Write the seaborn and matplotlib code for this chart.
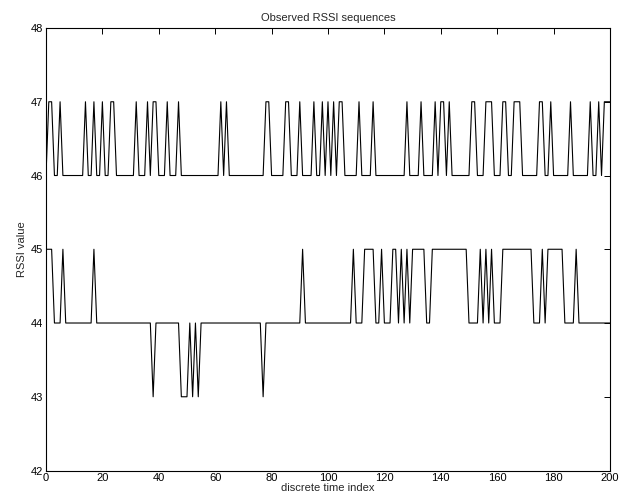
import numpy as np
import pandas as pd
import matplotlib
matplotlib.use("Agg")
import matplotlib.pyplot as plt
import seaborn as sns

# Beobachtete RSSI-Folgen, Zeitindex 0..200
time_index = list(range(201))

upper_rssi = (
    [46, 47, 47, 46, 46, 47, 46, 46, 46, 46, 46, 46, 46, 46, 47, 46, 46, 47, 46, 46]
    + [47, 46, 46, 47, 47, 46, 46, 46, 46, 46, 46, 46, 47, 46, 46, 46, 47, 46, 47, 47]
    + [46, 46, 46, 47, 46, 46, 46, 47, 46, 46, 46, 46, 46, 46, 46, 46, 46, 46, 46, 46]
    + [46, 46, 47, 46, 47, 46, 46, 46, 46, 46, 46, 46, 46, 46, 46, 46, 46, 46, 47, 47]
    + [46, 46, 46, 46, 46, 47, 47, 46, 46, 46, 47, 46, 46, 46, 46, 47, 46, 46, 47, 46]
    + [47, 46, 47, 46, 47, 47, 46, 46, 46, 46, 46, 47, 46, 46, 46, 46, 47, 46, 46, 46]
    + [46, 46, 46, 46, 46, 46, 46, 46, 47, 46, 46, 46, 46, 47, 46, 46, 46, 46, 47, 46]
    + [47, 47, 46, 47, 46, 46, 46, 46, 46, 46, 46, 47, 47, 46, 46, 46, 47, 47, 47, 46]
    + [46, 46, 47, 47, 46, 46, 47, 47, 47, 46, 46, 46, 46, 46, 46, 47, 47, 46, 46, 47]
    + [46, 46, 46, 46, 46, 46, 47, 46, 46, 46, 46, 46, 46, 47, 46, 46, 47, 46, 47, 47]
    + [47]
)

lower_rssi = (
    [45, 45, 45, 44, 44, 44, 45, 44, 44, 44, 44, 44, 44, 44, 44, 44, 44, 45, 44, 44]
    + [44, 44, 44, 44, 44, 44, 44, 44, 44, 44, 44, 44, 44, 44, 44, 44, 44, 44, 43, 44]
    + [44, 44, 44, 44, 44, 44, 44, 44, 43, 43, 43, 44, 43, 44, 43, 44, 44, 44, 44, 44]
    + [44, 44, 44, 44, 44, 44, 44, 44, 44, 44, 44, 44, 44, 44, 44, 44, 44, 43, 44, 44]
    + [44, 44, 44, 44, 44, 44, 44, 44, 44, 44, 44, 45, 44, 44, 44, 44, 44, 44, 44, 44]
    + [44, 44, 44, 44, 44, 44, 44, 44, 44, 45, 44, 44, 44, 45, 45, 45, 45, 44, 44, 45]
    + [44, 44, 44, 45, 45, 44, 45, 44, 45, 44, 45, 45, 45, 45, 45, 44, 44, 45, 45, 45]
    + [45, 45, 45, 45, 45, 45, 45, 45, 45, 45, 44, 44, 44, 44, 45, 44, 45, 44, 45, 44]
    + [44, 44, 45, 45, 45, 45, 45, 45, 45, 45, 45, 45, 45, 44, 44, 44, 45, 44, 45, 45]
    + [45, 45, 45, 45, 44, 44, 44, 44, 45, 44, 44, 44, 44, 44, 44, 44, 44, 44, 44, 44]
    + [44]
)

x_ticks = list(range(0, 201, 20))
y_ticks = list(range(42, 49))

sns.set_style("white")
plt.rcParams['font.family'] = ['Liberation Sans', 'DejaVu Sans']

df = pd.DataFrame({
    't': time_index * 2,
    'rssi': upper_rssi + lower_rssi,
    'series': ['upper'] * len(time_index) + ['lower'] * len(time_index),
})

fig = plt.figure(figsize=(6.36, 5.03), dpi=100)
ax = fig.add_axes([0.0723, 0.0646, 0.8868, 0.8797])

for name in ['upper', 'lower']:
    sns.lineplot(data=df[df['series'] == name], x='t', y='rssi',
                 color='black', linewidth=0.8, ax=ax, legend=False)

ax.set_xlim(0, 200)
ax.set_ylim(42, 48)
ax.set_xticks(x_ticks)
ax.set_yticks(y_ticks)
ax.tick_params(direction='in', top=True, right=True, length=4, width=0.7,
               labelsize=8, pad=2, colors='black')
for sp in ax.spines.values():
    sp.set_color('black')
    sp.set_linewidth(0.8)

ax.set_title('Observed RSSI sequences', fontsize=8, pad=5)
ax.set_xlabel('discrete time index', fontsize=8, labelpad=0)
ax.set_ylabel('RSSI value', fontsize=8, labelpad=3)

fig.savefig('out.png', dpi=100)
plt.close(fig)
